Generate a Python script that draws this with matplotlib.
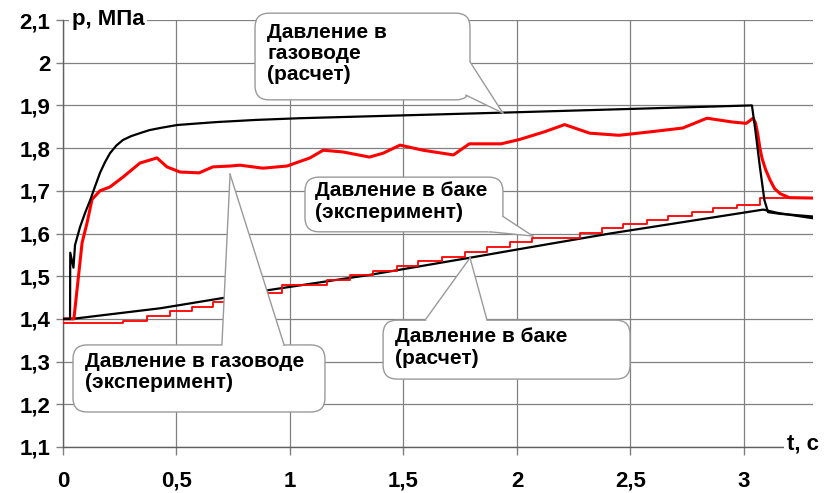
import numpy as np
import matplotlib
matplotlib.use("Agg")
import matplotlib.pyplot as plt
from matplotlib.patches import FancyBboxPatch, Polygon
from matplotlib.lines import Line2D
from matplotlib.transforms import IdentityTransform

# pressure in gas duct, calculation (black)
gas_calc_t = [0, 0.031, 0.032, 0.046, 0.053, 0.075, 0.097, 0.119, 0.141, 0.163, 0.185,
              0.207, 0.235, 0.264, 0.30, 0.339, 0.38, 0.427, 0.502, 0.60, 0.678, 0.85,
              1.044, 2.0, 3.035, 3.05, 3.07, 3.09, 3.106, 3.16, 3.30]
gas_calc_p = [1.40, 1.40, 1.555, 1.52, 1.573, 1.615, 1.648, 1.677, 1.71, 1.742, 1.767,
              1.788, 1.806, 1.819, 1.828, 1.835, 1.842, 1.847, 1.854, 1.858, 1.861, 1.866,
              1.870, 1.884, 1.900, 1.842, 1.756, 1.678, 1.650, 1.646, 1.640]

# pressure in gas duct, experiment (red)
gas_exp_t = [0, 0.048, 0.084, 0.106, 0.128, 0.163, 0.207, 0.264, 0.339, 0.414, 0.458,
             0.515, 0.60, 0.66, 0.736, 0.78, 0.88, 0.987, 1.088, 1.146, 1.233, 1.35,
             1.41, 1.485, 1.586, 1.72, 1.79, 1.87, 1.93, 2.01, 2.12, 2.21, 2.32, 2.45,
             2.586, 2.73, 2.837, 2.95, 3.01, 3.04, 3.05, 3.06, 3.07, 3.08, 3.095, 3.115,
             3.135, 3.16, 3.20, 3.30]
gas_exp_p = [1.40, 1.40, 1.578, 1.625, 1.68, 1.70, 1.709, 1.732, 1.765, 1.777, 1.756,
             1.744, 1.742, 1.756, 1.758, 1.76, 1.753, 1.758, 1.777, 1.795, 1.791, 1.779,
             1.788, 1.807, 1.795, 1.784, 1.81, 1.81, 1.81, 1.82, 1.838, 1.855, 1.835, 1.83,
             1.838, 1.847, 1.87, 1.861, 1.858, 1.87, 1.86, 1.835, 1.80, 1.775, 1.75, 1.725,
             1.705, 1.693, 1.684, 1.683]

# pressure in tank, calculation (black)
tank_calc_t = [0, 0.04, 0.43, 0.705, 0.9, 1.35, 1.79, 2.06, 2.41, 3.085, 3.15, 3.30]
tank_calc_p = [1.40, 1.40, 1.425, 1.449, 1.467, 1.503, 1.543, 1.568, 1.600, 1.656, 1.648, 1.636]

# pressure in tank, experiment (red, stepwise)
tank_exp_t = [0, 0.264, 0.37, 0.471, 0.568, 0.661, 0.758, 0.855, 0.965, 1.163, 1.264,
              1.366, 1.471, 1.564, 1.67, 1.771, 1.868, 1.969, 2.066, 2.278, 2.374, 2.467,
              2.573, 2.665, 2.771, 2.863, 2.969, 3.07, 3.30]
tank_exp_p = [1.39, 1.396, 1.407, 1.418, 1.429, 1.44, 1.45, 1.46, 1.479, 1.491, 1.502,
              1.512, 1.523, 1.535, 1.546, 1.557, 1.568, 1.579, 1.590, 1.601, 1.612, 1.622,
              1.632, 1.641, 1.650, 1.659, 1.667, 1.683, 1.683]

x_ticks = [0, 0.5, 1, 1.5, 2, 2.5, 3]
x_labels = ["0", "0,5", "1", "1,5", "2", "2,5", "3"]
y_ticks = [1.1, 1.2, 1.3, 1.4, 1.5, 1.6, 1.7, 1.8, 1.9, 2.0, 2.1]
y_labels = ["1,1", "1,2", "1,3", "1,4", "1,5", "1,6", "1,7", "1,8", "1,9", "2", "2,1"]

FONT = "Liberation Sans"
GRID = "#808080"
EDGE = "#9a9a9a"

fig = plt.figure(figsize=(8.24, 4.93), dpi=100)
ax = fig.add_subplot(111)
fig.subplots_adjust(left=63 / 824, right=813 / 824, bottom=1 - 447 / 493, top=1 - 20 / 493)

ax.set_xlim(0, 3.304)
ax.set_ylim(1.1, 2.1)
ax.set_xticks(x_ticks)
ax.set_xticklabels(x_labels)
ax.set_yticks(y_ticks)
ax.set_yticklabels(y_labels)
for lab in ax.get_xticklabels() + ax.get_yticklabels():
    lab.set_fontfamily(FONT)
    lab.set_fontweight("bold")
    lab.set_fontsize(16)
ax.tick_params(axis="y", length=5, width=1, color=GRID, pad=4)
ax.tick_params(axis="x", length=6, width=1, color=GRID, pad=11)
ax.grid(True, color=GRID, linewidth=0.9)
ax.set_axisbelow(True)
for side in ["top", "right"]:
    ax.spines[side].set_visible(False)
for side in ["left", "bottom"]:
    ax.spines[side].set_color("#606060")
    ax.spines[side].set_linewidth(1)

ax.plot(tank_calc_t, tank_calc_p, color="black", lw=1.6, zorder=3)
ax.step(tank_exp_t, tank_exp_p, where="post", color="#ff0000", lw=1.3, zorder=3)
ax.plot(gas_exp_t, gas_exp_p, color="#ff0000", lw=2.2, zorder=3)
ax.plot(gas_calc_t, gas_calc_p, color="black", lw=1.6, zorder=4)

ax.text(0.04, 2.1, "p, МПа", fontfamily=FONT, fontweight="bold", fontsize=16,
        va="center", ha="left", zorder=8, clip_on=False,
        bbox=dict(fc="white", ec="none", pad=2))
ax.text(3.19, 1.108, "t, с", fontfamily=FONT, fontweight="bold", fontsize=16,
        va="center", ha="left", zorder=8, clip_on=False,
        bbox=dict(fc="white", ec="none", pad=2))


def callout(box, base, tip, text, text_pos):
    to_px = ax.transData.transform
    (x0, y1), (x1, y0) = to_px([(box[0], box[1]), (box[2], box[3])])
    ident = IdentityTransform()
    ax.add_patch(FancyBboxPatch((x0, y0), x1 - x0, y1 - y0,
                                boxstyle="round,pad=0,rounding_size=14",
                                fc="white", ec=EDGE, lw=1, transform=ident,
                                zorder=5, clip_on=False))
    b1, b2 = to_px(base)
    tp = to_px([tip])[0]
    centre = np.array([(x0 + x1) / 2, (y0 + y1) / 2])
    ax.add_patch(Polygon([b1, tp, b2, centre], closed=True, fc="white", ec="none",
                         transform=ident, zorder=6, clip_on=False))
    for b in (b1, b2):
        ax.add_line(Line2D([b[0], tp[0]], [b[1], tp[1]], color=EDGE, lw=1,
                           transform=ident, zorder=6.5, clip_on=False))
    ax.text(text_pos[0], text_pos[1], text, fontfamily=FONT, fontweight="bold",
            fontsize=15, ha="left", va="top", linespacing=1.15, zorder=7)


callout((0.846, 2.116, 1.793, 1.913), [(1.793, 2.002), (1.775, 1.924)], (1.938, 1.882),
        "Давление в\nгазоводе\n(расчет)", (0.899, 2.093))
callout((1.066, 1.732, 1.938, 1.604), [(1.938, 1.640), (1.881, 1.604)], (2.07, 1.594),
        "Давление в баке\n(эксперимент)", (1.11, 1.722))
callout((0.044, 1.339, 1.154, 1.182), [(0.70, 1.339), (0.974, 1.339)], (0.736, 1.739),
        "Давление в газоводе\n(эксперимент)", (0.097, 1.322))
callout((1.41, 1.397, 2.498, 1.259), [(1.595, 1.397), (1.868, 1.397)], (1.793, 1.543),
        "Давление в баке\n(расчет)", (1.463, 1.38))

fig.savefig("out.png", dpi=100)
